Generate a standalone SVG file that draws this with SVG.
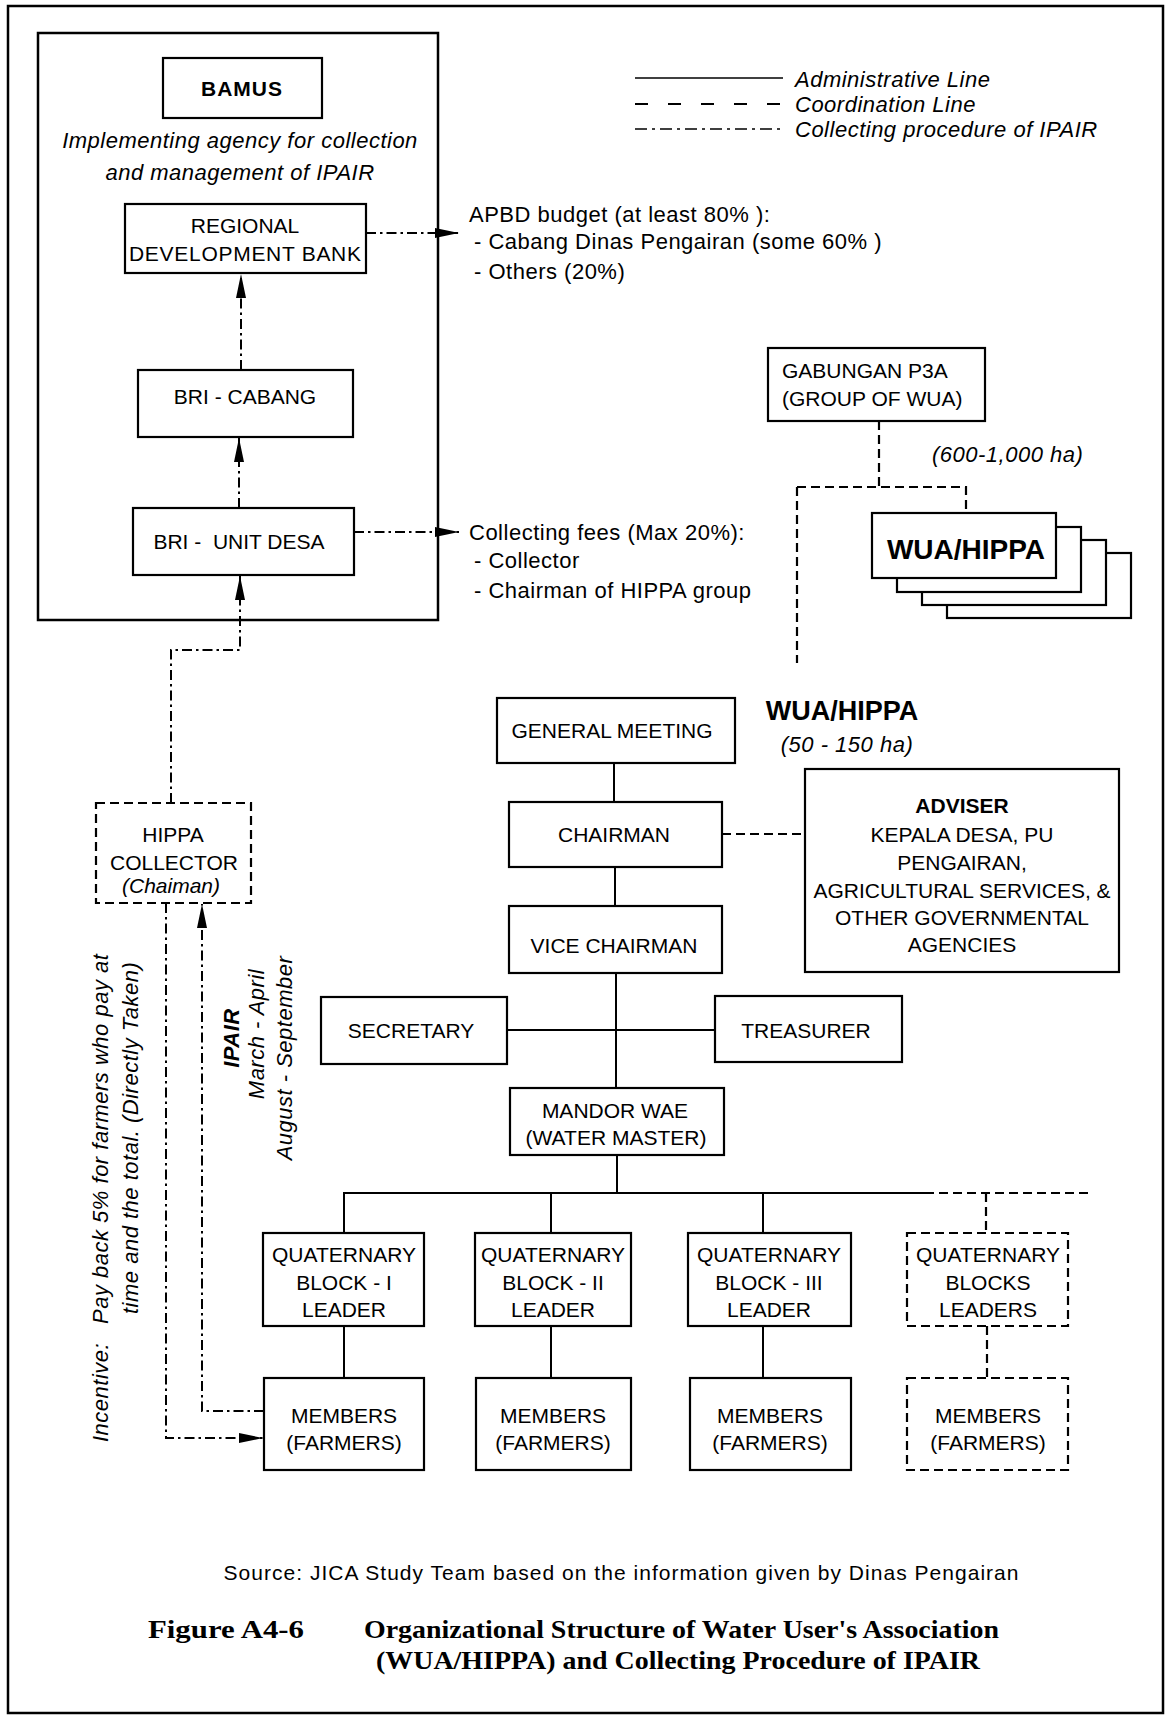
<svg xmlns="http://www.w3.org/2000/svg" width="1173" height="1717" viewBox="0 0 1173 1717">
<style>
.bg{fill:#fff}
.frame{fill:none;stroke:#000;stroke-width:2.5}
.box{fill:#fff;stroke:#000;stroke-width:2.2}
.dbox{fill:#fff;stroke:#000;stroke-width:2.2;stroke-dasharray:9 5}
.t{font-family:"Liberation Sans",Arial,sans-serif;font-size:21px;fill:#000;text-anchor:middle}
.a{font-family:"Liberation Sans",Arial,sans-serif;font-size:22px;fill:#000;letter-spacing:0.5px}
.i{font-style:italic}
.b{font-weight:bold}
.mid{text-anchor:middle}
.cap{font-family:"Liberation Serif","Times New Roman",serif;font-weight:bold;font-size:26px;fill:#000}
.adm{stroke:#000;stroke-width:2;fill:none}
.coord{stroke:#000;stroke-width:2.2;fill:none;stroke-dasharray:9 5}
.col{stroke:#000;stroke-width:2;fill:none;stroke-dasharray:10 4 2.5 4}
</style>
<defs>
<marker id="arr" markerUnits="userSpaceOnUse" markerWidth="26" markerHeight="12" refX="24" refY="5" orient="auto">
<path d="M0,0 L24,5 L0,10 z" fill="#000"/>
</marker>
</defs>
<rect class="bg" x="0" y="0" width="1173" height="1717"/>
<rect class="frame" x="8" y="6" width="1155" height="1707"/>

<g id="legend">
<line x1="635" y1="78" x2="783" y2="78" stroke="#000" stroke-width="1.6"/>
<line x1="635" y1="104" x2="783" y2="104" stroke="#000" stroke-width="1.8" stroke-dasharray="13 20"/>
<line x1="635" y1="129" x2="783" y2="129" stroke="#000" stroke-width="1.6" stroke-dasharray="12 5 3 5"/>
<text class="a i" x="795" y="87">Administrative Line</text>
<text class="a i" x="795" y="112">Coordination Line</text>
<text class="a i" x="795" y="137">Collecting procedure of IPAIR</text>
</g>

<g id="bamus-group">
<rect class="frame" x="38" y="33" width="400" height="587"/>
<text class="a i mid" x="240" y="148">Implementing agency for collection</text>
<text class="a i mid" x="240" y="180">and management of IPAIR</text>
</g>

<g id="bamus">
<rect class="box" x="163" y="58" width="159" height="60"/>
<text class="t b" x="242" y="96" style="letter-spacing:1px">BAMUS</text>
</g>

<g id="regional-bank">
<rect class="box" x="125" y="204" width="241" height="69"/>
<text class="t" x="245" y="233">REGIONAL</text>
<text class="t" x="245" y="261" textLength="232" lengthAdjust="spacing">DEVELOPMENT BANK</text>
</g>

<g id="bri-cabang">
<rect class="box" x="138" y="370" width="215" height="67"/>
<text class="t" x="245" y="404">BRI - CABANG</text>
</g>

<g id="bri-unit-desa">
<rect class="box" x="133" y="508" width="221" height="67"/>
<text class="t" x="239" y="549">BRI -&#160; UNIT DESA</text>
</g>

<g id="apbd-note">
<text class="a" x="469" y="222">APBD budget (at least 80% ):</text>
<text class="a" x="474" y="249">- Cabang Dinas Pengairan (some 60% )</text>
<text class="a" x="474" y="279">- Others (20%)</text>
</g>

<g id="fees-note">
<text class="a" x="469" y="540">Collecting fees (Max 20%):</text>
<text class="a" x="474" y="568">- Collector</text>
<text class="a" x="474" y="598">- Chairman of HIPPA group</text>
</g>

<g id="gabungan">
<rect class="box" x="768" y="348" width="217" height="73"/>
<text class="t" x="782" y="378" style="text-anchor:start">GABUNGAN P3A</text>
<text class="t" x="782" y="406" style="text-anchor:start">(GROUP OF WUA)</text>
</g>

<g id="area-note">
<text class="a i" x="932" y="462">(600-1,000 ha)</text>
</g>

<g id="wua-stack">
<rect class="box" x="947" y="553" width="184" height="65"/>
<rect class="box" x="922" y="540" width="184" height="65"/>
<rect class="box" x="897" y="527" width="184" height="65"/>
<rect class="box" x="872" y="513" width="184" height="65"/>
<text class="t b" x="966" y="559" style="font-size:28px">WUA/HIPPA</text>
</g>

<g id="wua-title">
<text class="t b" x="842" y="720" style="font-size:27px">WUA/HIPPA</text>
<text class="a i mid" x="847" y="752">(50 - 150 ha)</text>
</g>

<g id="general-meeting">
<rect class="box" x="497" y="698" width="238" height="65"/>
<text class="t" x="612" y="738">GENERAL MEETING</text>
</g>

<g id="chairman">
<rect class="box" x="509" y="802" width="213" height="65"/>
<text class="t" x="614" y="842">CHAIRMAN</text>
</g>

<g id="adviser">
<rect class="box" x="805" y="769" width="314" height="203"/>
<text class="t b" x="962" y="813">ADVISER</text>
<text class="t" x="962" y="842">KEPALA DESA, PU</text>
<text class="t" x="962" y="870">PENGAIRAN,</text>
<text class="t" x="962" y="898">AGRICULTURAL SERVICES, &amp;</text>
<text class="t" x="962" y="925">OTHER GOVERNMENTAL</text>
<text class="t" x="962" y="952">AGENCIES</text>
</g>

<g id="vice-chairman">
<rect class="box" x="509" y="906" width="213" height="67"/>
<text class="t" x="614" y="953">VICE CHAIRMAN</text>
</g>

<g id="secretary">
<rect class="box" x="321" y="997" width="186" height="67"/>
<text class="t" x="411" y="1038">SECRETARY</text>
</g>

<g id="treasurer">
<rect class="box" x="715" y="996" width="187" height="66"/>
<text class="t" x="806" y="1038">TREASURER</text>
</g>

<g id="mandor-wae">
<rect class="box" x="510" y="1088" width="214" height="67"/>
<text class="t" x="615" y="1118">MANDOR WAE</text>
<text class="t" x="616" y="1145">(WATER MASTER)</text>
</g>

<g id="q-block-1">
<rect class="box" x="263" y="1233" width="161" height="93"/>
<text class="t" x="344" y="1262">QUATERNARY</text>
<text class="t" x="344" y="1290">BLOCK - I</text>
<text class="t" x="344" y="1317">LEADER</text>
</g>
<g id="q-block-2">
<rect class="box" x="475" y="1233" width="156" height="93"/>
<text class="t" x="553" y="1262">QUATERNARY</text>
<text class="t" x="553" y="1290">BLOCK - II</text>
<text class="t" x="553" y="1317">LEADER</text>
</g>
<g id="q-block-3">
<rect class="box" x="688" y="1233" width="163" height="93"/>
<text class="t" x="769" y="1262">QUATERNARY</text>
<text class="t" x="769" y="1290">BLOCK - III</text>
<text class="t" x="769" y="1317">LEADER</text>
</g>
<g id="q-blocks">
<rect class="dbox" x="907" y="1233" width="161" height="93"/>
<text class="t" x="988" y="1262">QUATERNARY</text>
<text class="t" x="988" y="1290">BLOCKS</text>
<text class="t" x="988" y="1317">LEADERS</text>
</g>

<g id="members-1">
<rect class="box" x="264" y="1378" width="160" height="92"/>
<text class="t" x="344" y="1423">MEMBERS</text>
<text class="t" x="344" y="1450">(FARMERS)</text>
</g>
<g id="members-2">
<rect class="box" x="476" y="1378" width="155" height="92"/>
<text class="t" x="553" y="1423">MEMBERS</text>
<text class="t" x="553" y="1450">(FARMERS)</text>
</g>
<g id="members-3">
<rect class="box" x="690" y="1378" width="161" height="92"/>
<text class="t" x="770" y="1423">MEMBERS</text>
<text class="t" x="770" y="1450">(FARMERS)</text>
</g>
<g id="members-n">
<rect class="dbox" x="907" y="1378" width="161" height="92"/>
<text class="t" x="988" y="1423">MEMBERS</text>
<text class="t" x="988" y="1450">(FARMERS)</text>
</g>

<g id="hippa-collector">
<rect class="dbox" x="96" y="803" width="155" height="100"/>
<text class="t" x="173" y="842">HIPPA</text>
<text class="t" x="174" y="870">COLLECTOR</text>
<text class="t i" x="171" y="893">(Chaiman)</text>
</g>

<g id="collecting-notes">
<text class="a i b mid" x="239" y="1038" transform="rotate(-90 239 1038)">IPAIR</text>
<text class="a i mid" x="264" y="1034" transform="rotate(-90 264 1034)">March - April</text>
<text class="a i mid" x="292" y="1058" transform="rotate(-90 292 1058)">August - September</text>
<text class="a i" x="108" y="1442" transform="rotate(-90 108 1442)">Incentive:</text>
<text class="a i" x="108" y="1324" transform="rotate(-90 108 1324)">Pay back 5% for farmers who pay at</text>
<text class="a i" x="138" y="1314" transform="rotate(-90 138 1314)">time and the total. (Directly Taken)</text>
</g>

<g id="connectors">
<path class="col" d="M366,233 H459" marker-end="url(#arr)"/>
<path class="col" d="M354,532 H459" marker-end="url(#arr)"/>
<path class="col" d="M241,370 V274" marker-end="url(#arr)"/>
<path class="col" d="M239,508 V438" marker-end="url(#arr)"/>
<path class="col" d="M171,803 V650 H240 V576" marker-end="url(#arr)"/>
<path class="col" d="M264,1411 H202 V904" marker-end="url(#arr)"/>
<path class="col" d="M166,903 V1438 H263" marker-end="url(#arr)"/>
<path class="coord" d="M879,421 V487"/>
<path class="coord" d="M797,487 H966 V513"/>
<path class="coord" d="M797,487 V663"/>
<path class="coord" d="M722,834 H805"/>
<path class="adm" d="M614,763 V802"/>
<path class="adm" d="M615,867 V906"/>
<path class="adm" d="M616,973 V1088"/>
<path class="adm" d="M507,1030 H715"/>
<path class="adm" d="M617,1155 V1193"/>
<path class="adm" d="M344,1233 V1193 H925"/>
<path class="adm" d="M551,1193 V1233"/>
<path class="adm" d="M763,1193 V1233"/>
<path class="coord" d="M925,1193 H1092"/>
<path class="coord" d="M986,1193 V1233"/>
<path class="adm" d="M344,1326 V1378"/>
<path class="adm" d="M551,1326 V1378"/>
<path class="adm" d="M763,1326 V1378"/>
<path class="coord" d="M987,1326 V1378"/>
</g>

<g id="caption">
<text class="t" x="621" y="1580" textLength="795" lengthAdjust="spacing">Source: JICA Study Team based on the information given by Dinas Pengairan</text>
<text class="cap" x="148" y="1638" textLength="156" lengthAdjust="spacingAndGlyphs">Figure A4-6</text>
<text class="cap" x="364" y="1638" textLength="635" lengthAdjust="spacingAndGlyphs">Organizational Structure of Water User's Association</text>
<text class="cap" x="376" y="1669" textLength="604" lengthAdjust="spacingAndGlyphs">(WUA/HIPPA) and Collecting Procedure of IPAIR</text>
</g>
</svg>
